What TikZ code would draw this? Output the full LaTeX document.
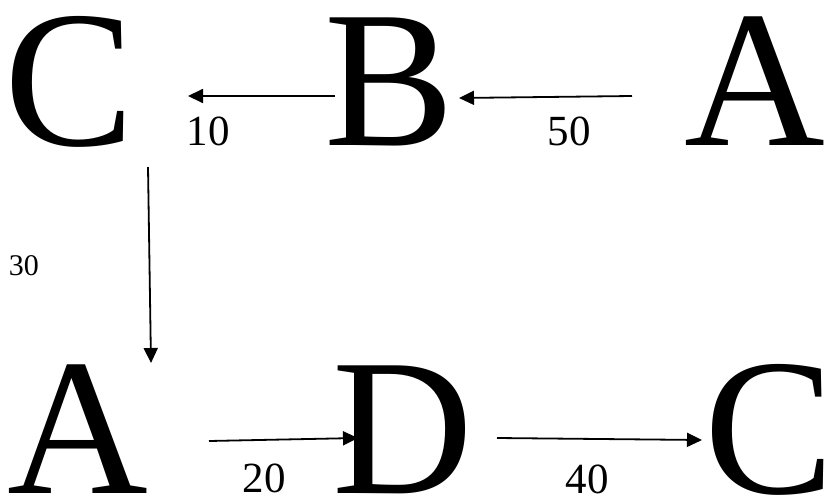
\documentclass[tikz,border=0pt]{standalone}
\usepackage{fontspec}
\setmainfont{Liberation Serif}
\usetikzlibrary{arrows.meta}
\begin{document}
\begin{tikzpicture}[x=1pt,y=-1pt,
  letter/.style={inner sep=0pt,anchor=base,font=\fontsize{195}{200}\selectfont},
  numlab/.style={inner sep=0pt,font=\fontsize{43}{46}\selectfont},
  smalllab/.style={inner sep=0pt,font=\fontsize{30}{32}\selectfont},
  arr/.style={line width=1.8pt,-{Triangle[length=15pt,width=14pt]}}]
\useasboundingbox (0,0) rectangle (828,496);
% letters
\node[letter] (C1) at (70,145) {C};
\node[letter] (B1) at (390,145) {B};
\node[letter] (A1) at (755,145) {A};
\node[letter] (A2) at (78,493) {A};
\node[letter] (D2) at (403,493) {D};
\node[letter] (C2) at (770,493) {C};
% arrow end points
\coordinate (bc1) at (335,96);
\coordinate (bc2) at (188,96);
\coordinate (ab1) at (632,96);
\coordinate (ab2) at (459,98);
\coordinate (ca1) at (148,167);
\coordinate (ca2) at (151,363);
\coordinate (ad1) at (209,441);
\coordinate (ad2) at (358,438);
\coordinate (dc1) at (497,438);
\coordinate (dc2) at (702,440);
% connectors
\draw[arr] (bc1) -- (bc2);
\draw[arr] (ab1) -- (ab2);
\draw[arr] (ca1) -- (ca2);
\draw[arr] (ad1) -- (ad2);
\draw[arr] (dc1) -- (dc2);
% labels
\node[numlab] (l10) at (208,131) {10};
\node[numlab] (l50) at (569,131) {50};
\node[smalllab] (l30) at (24,266) {30};
\node[numlab] (l20) at (264,478) {20};
\node[numlab] (l40) at (587,479) {40};
\end{tikzpicture}
\end{document}
